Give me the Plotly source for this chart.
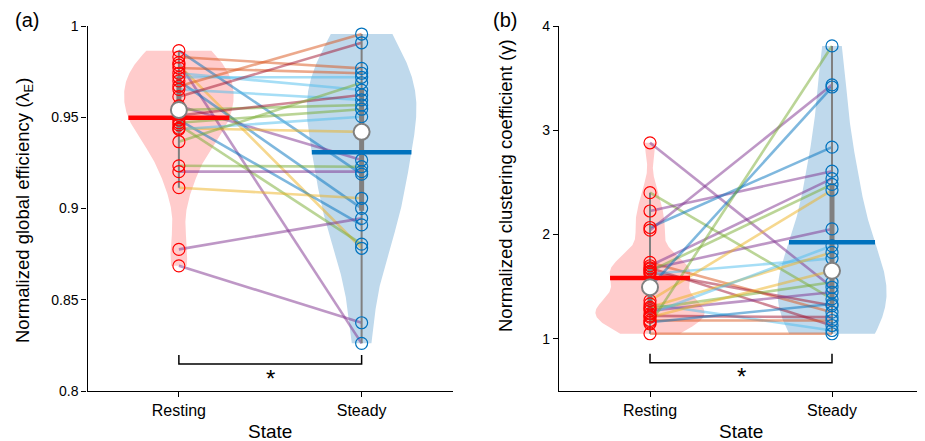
import numpy as np
import plotly.graph_objects as go

# ---------------- data ----------------
states = ["Resting", "Steady"]

# (a) normalized global efficiency, paired by subject
eff_rest = [0.9865, 0.983, 0.9799, 0.9786, 0.977, 0.9741, 0.9719, 0.9699, 0.967, 0.9653,
            0.9613, 0.9562, 0.954, 0.951, 0.9485, 0.947, 0.9458, 0.944, 0.9434, 0.9366,
            0.9234, 0.9202, 0.9114, 0.8776, 0.8686]
eff_steady = [0.9188, 0.9768, 0.8261, 0.8782, 0.9741, 0.9649, 0.9719, 0.9001, 0.9956, 0.9595,
              0.9908, 0.9266, 0.9567, 0.9622, 0.891, 0.9544, 0.8805, 0.942, 0.9503, 0.9689,
              0.9229, 0.9202, 0.9056, 0.8946, 0.8374]
eff_colors = ["#0072BD", "#D95319", "#7E2F8E", "#EDB120", "#D95319", "#4DBEEE", "#4DBEEE", "#0072BD",
              "#D95319", "#4DBEEE", "#A2142F", "#7E2F8E", "#77AC30", "#A2142F", "#0072BD", "#77AC30",
              "#77AC30", "#EDB120", "#4DBEEE", "#77AC30", "#77AC30", "#7E2F8E", "#EDB120", "#7E2F8E",
              "#7E2F8E"]

# (b) normalized clustering coefficient, paired by subject
clu_rest = [2.88, 2.402, 2.226, 2.068, 2.042, 1.733, 1.701, 1.68, 1.67, 1.65,
            1.638, 1.622, 1.495, 1.367, 1.335, 1.304, 1.29, 1.271, 1.24, 1.22,
            1.208, 1.176, 1.16, 1.144, 1.049]
clu_steady = [1.495, 1.383, 2.608, 2.838, 3.436, 1.256, 2.536, 1.128, 2.054, 2.481,
              1.319, 1.772, 3.415, 2.427, 1.08, 1.829, 1.543, 1.447, 1.892, 1.208,
              1.653, 1.176, 1.335, 3.809, 1.049]
clu_colors = ["#7E2F8E", "#77AC30", "#7E2F8E", "#0072BD", "#7E2F8E", "#D95319", "#7E2F8E", "#A2142F",
              "#7E2F8E", "#77AC30", "#A2142F", "#4DBEEE", "#0072BD", "#EDB120", "#4DBEEE", "#EDB120",
              "#77AC30", "#7E2F8E", "#4DBEEE", "#A2142F", "#EDB120", "#D95319", "#0072BD", "#77AC30",
              "#D95319"]

eff_ticks = [0.8, 0.85, 0.9, 0.95, 1.0]
eff_ticktext = ["0.8", "0.85", "0.9", "0.95", "1"]
clu_ticks = [1, 2, 3, 4]
clu_ticktext = ["1", "2", "3", "4"]

# significance brackets: (bar level, tick top, star level)
eff_bracket = [0.8148, 0.8197, 0.8068]
clu_bracket = [0.772, 0.858, 0.64]

# ---------------- style ----------------
FONT = "Liberation Sans, Arial, sans-serif"
GROUP_COL = ["#FF0000", "#0072BD"]
VIOLIN_FILL = ["#FFCCCC", "#BFD9EC"]
W = 0.3

# the page body adds an 8px margin; figure is sized/positioned to compensate
OFF = 8
FW, FH = 925 - OFF, 441 - OFF


def px(X):
    return (X - OFF) / FW


def py(Y):
    return 1 - (Y - OFF) / FH


def hex_rgba(h, a):
    h = h.lstrip("#")
    return "rgba(%d,%d,%d,%.2f)" % (int(h[0:2], 16), int(h[2:4], 16), int(h[4:6], 16), a)


def kde(data, bw_scale=1.0):
    d = np.asarray(data, float)
    n = len(d)
    med = np.median(d)
    sig = np.median(np.abs(d - med)) / 0.6745
    bw = sig * (4.0 / (3.0 * n)) ** 0.2 * bw_scale
    grid = np.linspace(d.min(), d.max(), 300)
    dens = np.exp(-0.5 * ((grid[:, None] - d[None, :]) / bw) ** 2).sum(1) / (n * bw * np.sqrt(2 * np.pi))
    return grid, dens / dens.max() * W


fig = go.Figure()


def add_panel(rest, steady, colors, xa, ya, bracket, bw_scales):
    groups = [rest, steady]
    for i, g in enumerate(groups):
        pos = i + 1
        grid, hw = kde(g, bw_scales[i])
        xs = np.concatenate([pos - hw, (pos + hw)[::-1]])
        ys = np.concatenate([grid, grid[::-1]])
        fig.add_trace(go.Scatter(x=xs, y=ys, fill="toself", fillcolor=VIOLIN_FILL[i],
                                 line=dict(width=0, color=VIOLIN_FILL[i]), mode="lines",
                                 xaxis=xa, yaxis=ya, hoverinfo="skip", showlegend=False))
    for r, s, c in zip(rest, steady, colors):
        fig.add_trace(go.Scatter(x=[1, 2], y=[r, s], mode="lines",
                                 line=dict(color=hex_rgba(c, 0.5), width=2.6),
                                 xaxis=xa, yaxis=ya, hoverinfo="skip", showlegend=False))
    for i, g in enumerate(groups):
        pos = i + 1
        d = np.asarray(g, float)
        q1, med, q3 = np.percentile(d, [25, 50, 75], method="hazen")
        iqr = q3 - q1
        lo = max(q1 - 1.5 * iqr, d[d > q1 - 1.5 * iqr].min())
        hi = min(q3 + 1.5 * iqr, d[d < q3 + 1.5 * iqr].max())
        fig.add_trace(go.Scatter(x=[pos, pos], y=[lo, hi], mode="lines",
                                 line=dict(color="#808080", width=2),
                                 xaxis=xa, yaxis=ya, hoverinfo="skip", showlegend=False))
        fig.add_trace(go.Scatter(x=[pos, pos], y=[q1, q3], mode="lines",
                                 line=dict(color="#808080", width=5),
                                 xaxis=xa, yaxis=ya, hoverinfo="skip", showlegend=False))
        fig.add_trace(go.Scatter(x=[pos] * len(d), y=d, mode="markers",
                                 marker=dict(symbol="circle-open", size=12, color=GROUP_COL[i],
                                             line=dict(width=1.2, color=GROUP_COL[i])),
                                 xaxis=xa, yaxis=ya, hoverinfo="skip", showlegend=False))
        grid, hw = kde(g, bw_scales[i])
        mval = d.mean()
        mw = np.interp(mval, grid, hw)
        fig.add_trace(go.Scatter(x=[pos - mw, pos + mw], y=[mval, mval], mode="lines",
                                 line=dict(color=GROUP_COL[i], width=4.5),
                                 xaxis=xa, yaxis=ya, hoverinfo="skip", showlegend=False))
        fig.add_trace(go.Scatter(x=[pos], y=[med], mode="markers",
                                 marker=dict(symbol="circle", size=16, color="white",
                                             line=dict(width=2, color="#808080")),
                                 xaxis=xa, yaxis=ya, hoverinfo="skip", showlegend=False))
    bar, top, star = bracket
    fig.add_trace(go.Scatter(x=[1, 1, 2, 2], y=[top, bar, bar, top], mode="lines",
                             line=dict(color="black", width=1.5),
                             xaxis=xa, yaxis=ya, hoverinfo="skip", showlegend=False))
    fig.add_annotation(x=1.5, y=star, xref=xa, yref=ya, text="*", showarrow=False,
                       font=dict(family=FONT, size=24, color="black"), yanchor="middle")


add_panel(eff_rest, eff_steady, eff_colors, "x", "y", eff_bracket, [1.0, 1.1])
add_panel(clu_rest, clu_steady, clu_colors, "x2", "y2", clu_bracket, [0.75, 1.25])

ax_common = dict(showline=True, linecolor="black", linewidth=1.3, ticks="outside", ticklen=5,
                 tickwidth=1.3, tickcolor="black", showgrid=False, zeroline=False, mirror=False,
                 automargin=False,
                 tickfont=dict(family=FONT, size=14, color="black"))
xa_common = dict(ax_common, range=[0.5, 2.5], tickvals=[1, 2], ticktext=states,
                 tickfont=dict(family=FONT, size=16, color="black"))

fig.update_layout(
    width=FW, height=FH,
    margin=dict(l=0, r=0, t=0, b=0, autoexpand=False),
    paper_bgcolor="white", plot_bgcolor="white",
    showlegend=False,
    xaxis=dict(xa_common, domain=[px(87.5), px(453)], anchor="y"),
    yaxis=dict(ax_common, domain=[py(391), py(26)], range=[0.8, 1.0],
               tickvals=eff_ticks, ticktext=eff_ticktext, anchor="x"),
    xaxis2=dict(xa_common, domain=[px(559), px(923)], anchor="y2"),
    yaxis2=dict(ax_common, domain=[py(391), py(26)], range=[0.5, 4.0],
                tickvals=clu_ticks, ticktext=clu_ticktext, anchor="x2"),
)

ann = [
    dict(x=270, y=431, text="State", size=19, angle=0),
    dict(x=741, y=431, text="State", size=19, angle=0),
    dict(x=24, y=211, text="Normalized global efficiency (λ<sub>E</sub>)", size=18.5, angle=-90),
    dict(x=505, y=186, text="Normalized clustering coefficient (γ)", size=18.5, angle=-90),
    dict(x=27, y=20, text="(a)", size=20, angle=0),
    dict(x=505, y=20, text="(b)", size=20, angle=0),
]
for a in ann:
    fig.add_annotation(x=px(a["x"]), y=py(a["y"]), xref="paper", yref="paper", text=a["text"],
                       showarrow=False, textangle=a["angle"], xanchor="center", yanchor="middle",
                       font=dict(family=FONT, size=a["size"], color="black"))

fig.write_html("out.html")
